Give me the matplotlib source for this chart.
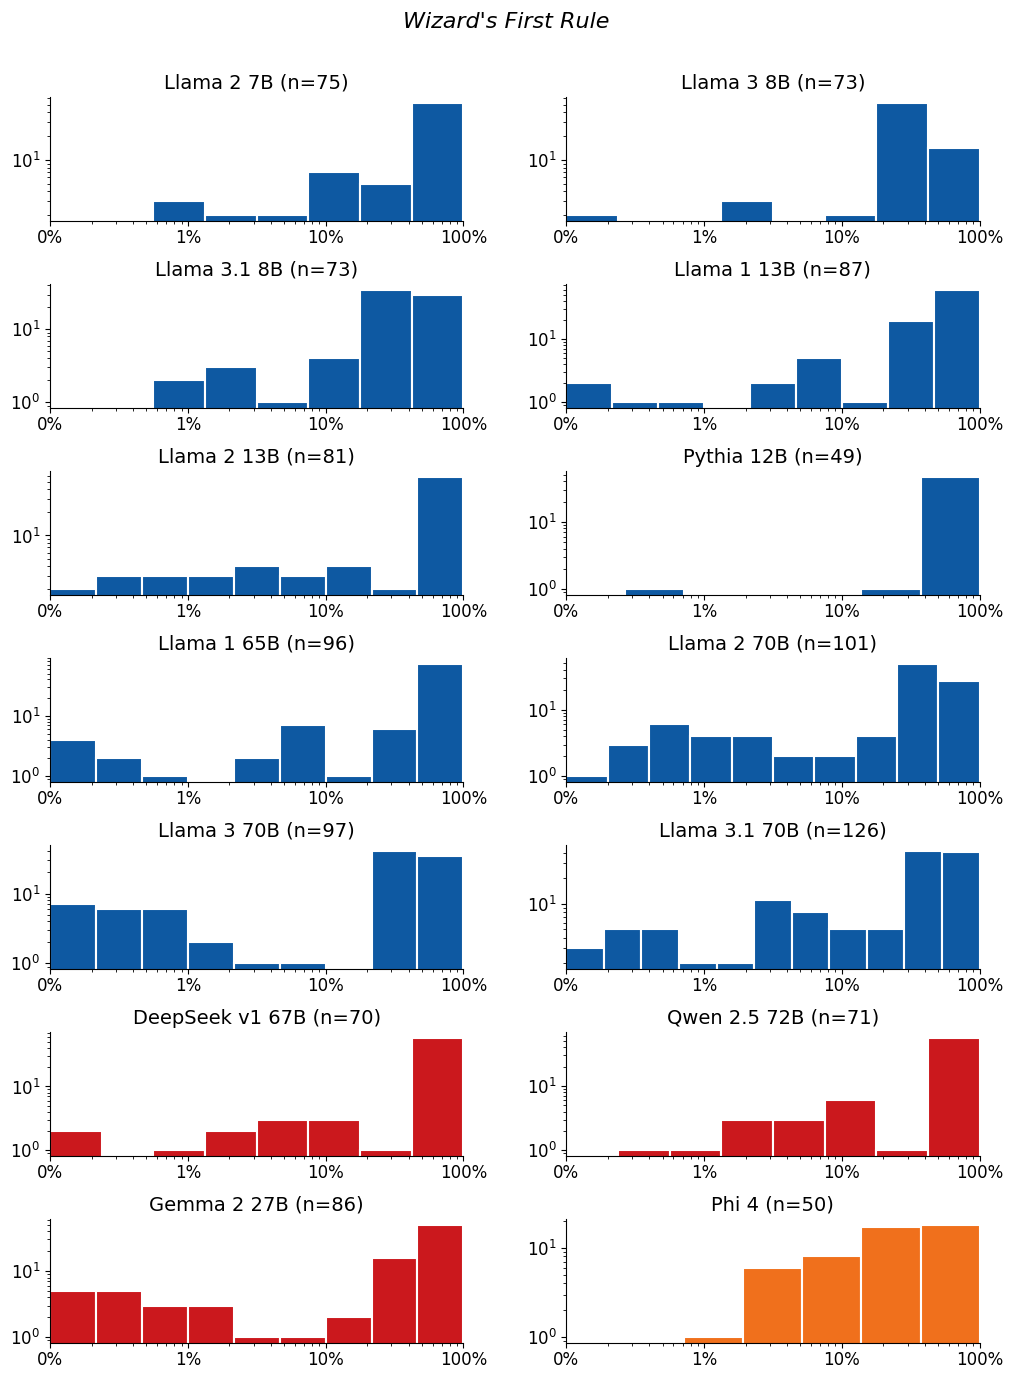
"""Wizard's First Rule: per-model histograms of percentages (log-log)."""
import matplotlib
import numpy as np

matplotlib.use('Agg')
import matplotlib.pyplot as plt

models = ['Llama 2 7B', 'Llama 3 8B', 'Llama 3.1 8B', 'Llama 1 13B',
          'Llama 2 13B', 'Pythia 12B', 'Llama 1 65B', 'Llama 2 70B',
          'Llama 3 70B', 'Llama 3.1 70B', 'DeepSeek v1 67B', 'Qwen 2.5 72B',
          'Gemma 2 27B', 'Phi 4']
n_items = [75, 73, 73, 87, 81, 49, 96, 101, 97, 126, 70, 71, 86, 50]
groups = ['meta'] * 6 + ['meta'] * 4 + ['other'] * 3 + ['phi']

# bin counts, bins log-spaced between 0.1% and 100%
counts = [
    [0, 0, 3, 2, 2, 7, 5, 53],
    [2, 0, 0, 3, 0, 2, 53, 14],
    [0, 0, 2, 3, 1, 4, 35, 30],
    [2, 1, 1, 0, 2, 5, 1, 19, 60],
    [2, 3, 3, 3, 4, 3, 4, 2, 58],
    [0, 1, 0, 0, 0, 1, 47],
    [4, 2, 1, 0, 2, 7, 1, 6, 73],
    [1, 3, 6, 4, 4, 2, 2, 4, 49, 27],
    [7, 6, 6, 2, 1, 1, 0, 41, 35],
    [3, 5, 5, 2, 2, 11, 8, 5, 5, 42, 41],
    [2, 0, 1, 2, 3, 3, 1, 58],
    [0, 1, 1, 3, 3, 6, 1, 56],
    [5, 5, 3, 3, 1, 1, 2, 16, 50],
    [0, 0, 1, 6, 8, 17, 18],
]

COLORS = {'meta': '#0e59a2', 'other': '#cb181d', 'phi': '#f0701c'}
XTICKS = [0.001, 0.01, 0.1, 1.0]
XLABELS = ['0%', '1%', '10%', '100%']


def main() -> None:
    plt.rcParams['xtick.labelsize'] = 12
    plt.rcParams['ytick.labelsize'] = 12
    plt.rcParams['xtick.major.pad'] = 2.5

    fig, axes = plt.subplots(7, 2, figsize=(10.13, 13.78))
    fig.subplots_adjust(left=0.0494, right=0.967, top=0.9296, bottom=0.0254,
                        wspace=0.249, hspace=0.51)
    fig.suptitle("Wizard's First Rule", fontsize=16, style='italic', y=0.9915)

    for ax, name, n, grp, cnt in zip(axes.flat, models, n_items, groups, counts):
        edges = np.logspace(-3, 0, len(cnt) + 1)
        ax.set_xscale('log')
        ax.set_yscale('log')
        ax.bar(edges[:-1], cnt, width=np.diff(edges), align='edge',
               color=COLORS[grp], edgecolor='white', linewidth=1.5)
        ax.set_xlim(edges[0], edges[-1])
        ax.set_xticks(XTICKS)
        ax.set_xticklabels(XLABELS)
        ax.set_title(f'{name} (n={n})', fontsize=14)
        ax.spines['top'].set_visible(False)
        ax.spines['right'].set_visible(False)

    fig.savefig('out.png', dpi=100)
    plt.close(fig)


if __name__ == "__main__":
    main()
